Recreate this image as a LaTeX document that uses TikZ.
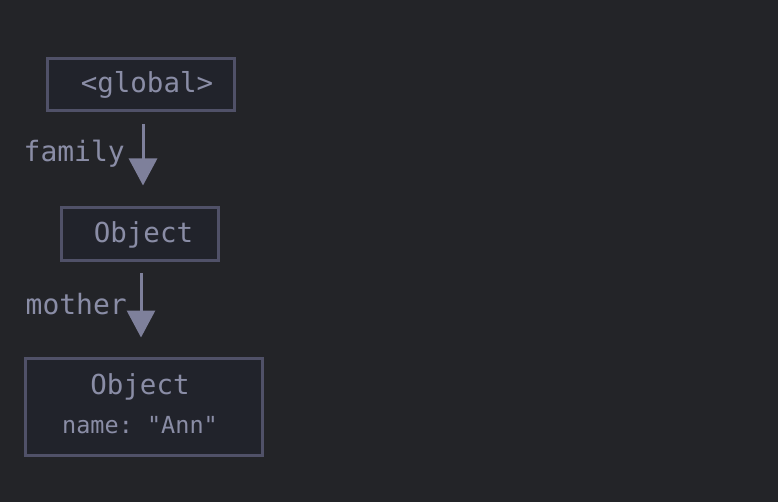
\documentclass[tikz,border=0pt]{standalone}
\usepackage{fontspec}
\setmonofont{DejaVu Sans Mono}
\usetikzlibrary{arrows.meta,positioning}
\definecolor{bgdark}{RGB}{35,36,40}
\definecolor{boxfill}{RGB}{33,35,43}
\definecolor{boxline}{RGB}{80,81,104}
\definecolor{txtgrey}{RGB}{138,141,166}
\definecolor{arrgrey}{RGB}{126,128,155}

\begin{document}
\begin{tikzpicture}[
    x=1pt, y=-1pt,
    objbox/.style={rectangle, draw=boxline, line width=3pt, fill=boxfill, text=txtgrey, font=\ttfamily\fontsize{27.5}{32}\selectfont, inner sep=0pt},
    lbl/.style={text=txtgrey, font=\ttfamily\fontsize{28}{32}\selectfont, inner sep=0pt, anchor=east},
    flow/.style={draw=arrgrey, line width=3pt, -{Triangle[width=28pt,length=27pt]}}
]
\fill[bgdark] (0,0) rectangle (778,502);
\useasboundingbox (0,0) rectangle (778,502);

\node (glob) [objbox, minimum width=187pt, minimum height=52pt] at (140.5,85) {\hspace*{13pt}<global>};
\node (objA) [objbox, minimum width=157pt, minimum height=53pt] at (139.5,234.5) {\hspace*{8pt}Object};
\node (objB) [objbox, minimum width=237pt, minimum height=97pt, align=center] at (143.5,406.5)
    {\hspace*{-7pt}\raisebox{3pt}[\height][\depth]{Object}\\[6pt]{\fontsize{23.5}{28}\selectfont\hspace*{-7pt}\raisebox{2pt}[\height][\depth]{name: "Ann"}}};

\draw[flow, shorten <=12pt, shorten >=21pt] ([xshift=2.5pt]glob.south) -- ([xshift=3.5pt]objA.north);
\draw[flow, shorten <=11pt, shorten >=19pt] ([xshift=1.5pt]objA.south) -- ([xshift=-2.5pt]objB.north);

\node (famlbl) [lbl] at (125,154) {family};
\node (motlbl) [lbl] at (127,304) {mother};

\end{tikzpicture}
\end{document}
